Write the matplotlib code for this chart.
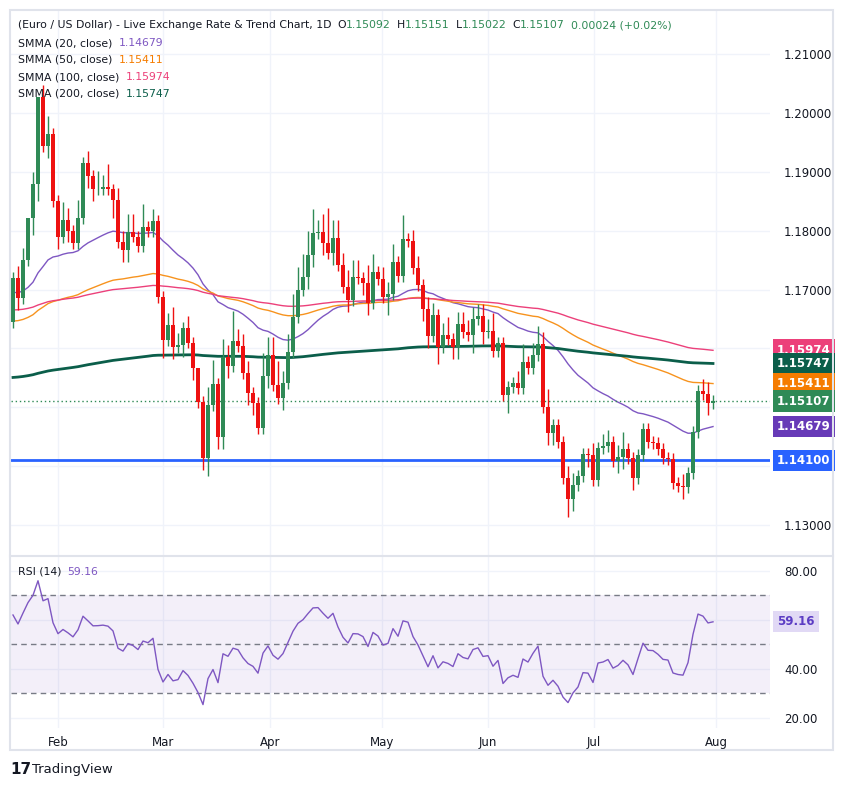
import numpy as np
import matplotlib
matplotlib.use("Agg")
import matplotlib.pyplot as plt
from matplotlib.patches import Rectangle

closes = [1.1720,1.1686,1.1750,1.1822,1.1880,1.2027,1.1944,1.1964,1.1850,1.1789,
          1.1818,1.1800,1.1779,1.1822,1.1915,1.1893,1.1870,1.1871,1.1874,1.1870,
          1.1852,1.1780,1.1767,1.1798,1.1790,1.1774,1.1806,1.1800,1.1816,1.1687,
          1.1614,1.1640,1.1602,1.1606,1.1635,1.1610,1.1567,1.1509,1.1414,1.1504,
          1.1540,1.1450,1.1586,1.1570,1.1613,1.1604,1.1558,1.1524,1.1507,1.1465,
          1.1553,1.1589,1.1538,1.1516,1.1541,1.1594,1.1653,1.1699,1.1721,1.1759,
          1.1796,1.1798,1.1779,1.1762,1.1788,1.1742,1.1704,1.1682,1.1721,1.1720,
          1.1711,1.1677,1.1730,1.1718,1.1687,1.1693,1.1747,1.1723,1.1786,1.1782,
          1.1737,1.1708,1.1667,1.1621,1.1657,1.1603,1.1623,1.1616,1.1603,1.1642,
          1.1628,1.1623,1.1650,1.1655,1.1628,1.1630,1.1596,1.1610,1.1521,1.1535,
          1.1541,1.1533,1.1577,1.1567,1.1589,1.1608,1.1501,1.1457,1.1470,1.1441,
          1.1380,1.1344,1.1368,1.1383,1.1421,1.1419,1.1377,1.1431,1.1434,1.1441,
          1.1409,1.1416,1.1429,1.1414,1.1380,1.1419,1.1463,1.1441,1.1440,1.1429,
          1.1414,1.1412,1.1372,1.1367,1.1365,1.1389,1.1458,1.1528,1.1523,1.1507,
          1.15107]
first_open = 1.1645
upper_wick = [1,2,2,0,2,0,2,3,1,1, 3,2,1,3,1,2,1,3,2,4, 1,2,2,3,3,1,4,1,2,1,
              1,2,3,2,1,2,1,0,1,3, 4,1,3,2,5,2,2,2,1,1, 4,3,3,4,2,3,4,4,4,4,
              4,2,3,6,3,3,2,3,3,3, 1,3,3,1,2,2,3,1,4,1, 2,2,1,2,2,1,2,3,1,2,
              2,2,2,2,2,2,3,1,1,1, 1,2,3,1,2,3,2,3,1,1, 1,2,2,1,1,1,2,1,2,2,
              1,2,3,1,1,1,1,1,1,1, 1,1,1,1,2,1,1,1,2,2, 1]
lower_wick = [1,2,1,1,3,3,1,2,1,2, 1,2,1,1,1,2,2,1,1,1, 3,1,2,2,1,1,1,1,1,1,
              3,1,2,1,2,1,2,1,2,3, 1,2,2,2,1,1,1,2,2,1, 1,2,1,1,2,1,1,1,1,2,
              2,1,2,1,2,1,1,2,1,1, 2,2,1,1,1,3,1,1,1,1, 1,1,2,2,1,3,1,1,2,2,
              1,1,3,1,2,1,1,1,1,3, 1,1,1,1,1,1,1,2,2,1, 1,3,2,1,1,2,1,1,1,1,
              1,2,2,1,2,1,1,1,1,1, 1,1,1,1,2,1,1,1,1,2, 1]
smma_seed = {20: 1.1694, 50: 1.1645, 100: 1.1665, 200: 1.1550}
smma_last = {20: "1.14679", 50: "1.15411", 100: "1.15974", 200: "1.15747"}
smma_colors = {20: "#7e57c2", 50: "#f7931e", 100: "#ec407a", 200: "#0b5e4a"}
rsi_seed_gain, rsi_seed_loss = 0.0022, 0.0017
rsi_last_label = "59.16"
support = 1.1410
month_labels = ["Feb", "Mar", "Apr", "May", "Jun", "Jul", "Aug"]
month_pos = [9, 30, 51.4, 73.8, 95, 116.2, 140.6]
price_ticks = [1.13, 1.14, 1.15, 1.16, 1.17, 1.18, 1.19, 1.20, 1.21]
hidden_ticks = [1.14, 1.15, 1.16]
rsi_ticks = [20, 40, 60, 80]
rsi_hidden = [60]
ohlc_text = [("O", "1.15092"), ("H", "1.15151"), ("L", "1.15022"), ("C", "1.15107"), ("", "0.00024 (+0.02%)")]

c = np.array(closes)
n = len(c)
o = np.concatenate([[first_open], c[:-1]])
hi = np.maximum(o, c) + np.array(upper_wick) * 0.001
lo = np.minimum(o, c) - np.array(lower_wick) * 0.001
idx = np.arange(n)

def smma(vals, period, seed):
    out = np.empty(len(vals)); prev = seed
    for i, v in enumerate(vals):
        prev = (prev * (period - 1) + v) / period
        out[i] = prev
    return out

d = np.diff(np.concatenate([[first_open], c]))
g, l = rsi_seed_gain, rsi_seed_loss
rsi = []
for x in d:
    g = (g * 13 + max(x, 0)) / 14
    l = (l * 13 + max(-x, 0)) / 14
    rsi.append(100 - 100 / (1 + g / l))
rsi = np.array(rsi)

W, H = 844, 786
fig = plt.figure(figsize=(W / 100, H / 100), dpi=100)
fig.patch.set_facecolor("white")
fig.add_artist(Rectangle((10 / W, 1 - 750 / H), 823 / W, 740 / H, transform=fig.transFigure,
                         fill=False, ec="#e0e3eb", lw=1.5))
ax = fig.add_axes([11 / W, 1 - 555 / H, 759 / W, 545 / H])
ar = fig.add_axes([11 / W, 1 - 728 / H, 759 / W, 171 / H])
fig.add_artist(plt.Line2D([10 / W, 833 / W], [1 - 556 / H] * 2, color="#e0e3eb", lw=1.5))

xlim = (-0.4, 151.4)
for a in (ax, ar):
    a.set_xlim(*xlim)
    for s in a.spines.values():
        s.set_visible(False)
    a.set_xticks(month_pos)
    a.grid(True, color="#f0f3fa", lw=1)
    a.set_axisbelow(True)
    a.tick_params(length=0, labelsize=8.5, colors="#131722")

ax.set_ylim(1.12494, 1.21747)
ax.set_yticks(price_ticks)
ax.yaxis.tick_right()
ax.set_yticklabels(["" if any(abs(t - h) < 1e-9 for h in hidden_ticks) else f"{t:.5f}" for t in price_ticks])
ax.tick_params(axis="y", pad=10)
ax.set_xticklabels([])

green, red = "#2f8a56", "#ee1111"
cols = np.where(c >= o, green, red)
ax.vlines(idx, lo, hi, colors=cols, lw=1, zorder=3)
ax.bar(idx, np.maximum(np.abs(c - o), 0.00012), bottom=np.minimum(o, c), width=0.62,
       color=cols, zorder=4)

for p in (20, 50, 100, 200):
    ax.plot(idx, smma(c, p, smma_seed[p]), color=smma_colors[p],
            lw=2 if p == 200 else 1, zorder=2)
ax.axhline(support, color="#2962ff", lw=2, zorder=2)
ax.axhline(c[-1], color=green, lw=1, ls=(0, (1, 2)), zorder=2)

tags = [(1.15974, "1.15974", "#ec407a"), (1.15747, "1.15747", "#0b5e4a"),
        (1.15411, "1.15411", "#f57c00"), (c[-1], "1.15107", green),
        (1.14679, "1.14679", "#673ab7"), (support, "1.14100", "#2962ff")]
for v, t, col in tags:
    ax.annotate(t, xy=(1.0, v), xycoords=("axes fraction", "data"), xytext=(5, 0),
                textcoords="offset points", va="center", ha="left", fontsize=8.5,
                fontweight="bold", color="white", zorder=10,
                bbox=dict(boxstyle="square,pad=0.35", fc=col, ec="none"))

fig.canvas.draw()
renderer = fig.canvas.get_renderer()
fs = 7.8

def chain(x_px, y_px, pieces):
    x = x_px
    for txt, col in pieces:
        if txt == " ":
            x += 6
            continue
        t = fig.text(x / W, 1 - y_px / H, txt, fontsize=fs, va="center", ha="left", color=col)
        x = t.get_window_extent(renderer).x1
    return x

parts = [("(Euro / US Dollar) - Live Exchange Rate & Trend Chart, 1D", "#131722"), (" ", None)]
for k, v in ohlc_text:
    if k:
        parts.append((k, "#131722"))
    parts.append((v, green))
    parts.append((" ", None))
chain(18, 25, parts)
for k, p in enumerate((20, 50, 100, 200)):
    chain(18, 43 + 17 * k, [(f"SMMA ({p}, close)", "#131722"), (" ", None),
                            (smma_last[p], smma_colors[p] if p != 50 else "#f57c00")])

# RSI
ar.set_ylim(15.9, 85.7)
ar.set_yticks(rsi_ticks)
ar.yaxis.tick_right()
ar.set_yticklabels(["" if t in rsi_hidden else f"{t:.2f}" for t in rsi_ticks])
ar.tick_params(axis="y", pad=10)
ar.set_xticklabels(month_labels)
ar.tick_params(axis="x", pad=6)
ar.axhspan(30, 70, color="#7e57c2", alpha=0.09, lw=0)
for lv in (30, 50, 70):
    ar.axhline(lv, color="#787b86", lw=1, ls=(0, (4, 3)))
ar.plot(idx, rsi, color="#7e57c2", lw=1)
chain(18, 572, [("RSI (14)", "#131722"), (" ", None), (rsi_last_label, "#7e57c2")])
ar.annotate(rsi_last_label, xy=(1.0, rsi[-1]), xycoords=("axes fraction", "data"), xytext=(5, 0),
            textcoords="offset points", va="center", ha="left", fontsize=8.5, fontweight="bold",
            color="#5b3cc4", bbox=dict(boxstyle="square,pad=0.35", fc="#e1d9f5", ec="none"))

fig.text(10 / W, 1 - 769 / H, "17", fontsize=11, fontweight="heavy", va="center", color="#131722")
fig.text(32 / W, 1 - 769 / H, "TradingView", fontsize=9.5, va="center", color="#131722")

fig.savefig("out.png", dpi=100)
